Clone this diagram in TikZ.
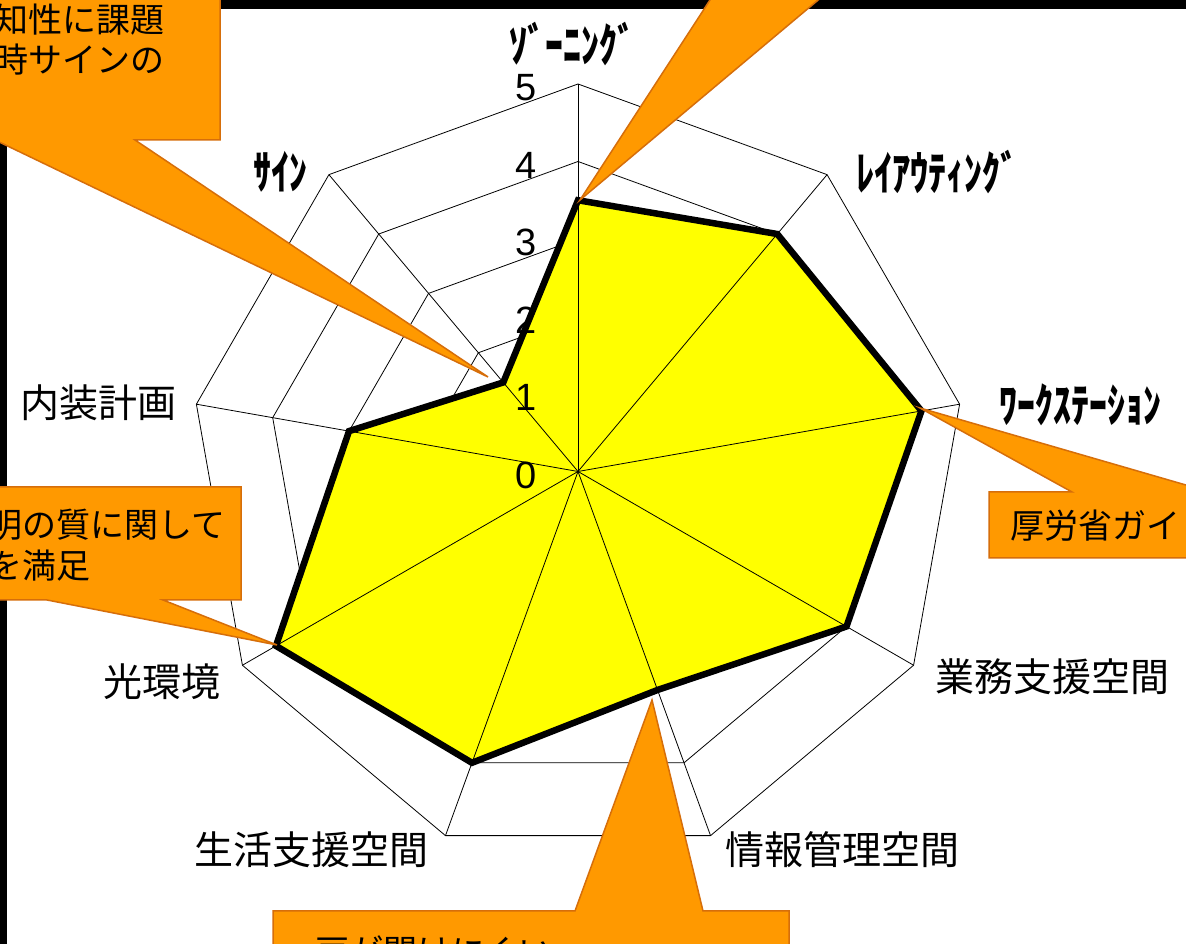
\documentclass[tikz,border=0pt]{standalone}
\usepackage{fontspec}
\usepackage{graphicx}
\setmainfont{Liberation Sans}
\newfontfamily\jp{Noto Sans CJK JP}
\usetikzlibrary{calc}
\definecolor{callfill}{RGB}{255,153,0}
\definecolor{callline}{RGB}{214,110,10}
\definecolor{scorefill}{RGB}{255,255,0}
\newcommand{\tallkana}[1]{\scalebox{1}[1.3]{#1}}
\tikzset{
  axislabel/.style={font=\jp\fontsize{39}{41}\selectfont, inner sep=0pt},
  kanalabel/.style={font=\jp\bfseries\fontsize{36}{38}\selectfont, inner sep=0pt},
  ticklabel/.style={font=\fontsize{38}{40}\selectfont, inner sep=0pt},
  gridline/.style={line width=0.8pt},
  callout/.style={fill=callfill, draw=callline, line width=1.5pt, line join=miter},
  callouttext/.style={font=\jp\fontsize{34}{36}\selectfont, inner sep=0pt, anchor=west},
}
\begin{document}
\begin{tikzpicture}[x=1pt, y=1pt]
    \clip (0,0) rectangle (1186,944);
    \fill[white] (0,0) rectangle (1186,944);

    % Chart frame (mostly hidden)
    \fill (0,935) rectangle (1186,944);
    \fill (0,0) rectangle (7,944);

    \begin{scope}[shift={(578,472.5)}]
        \coordinate (c) at (0,0);
        % Grid rings 1..5
        \foreach \r in {1,...,5}
            \draw[gridline] (90:\r*77.5) \foreach \a in {50,10,...,-230} { -- (\a:\r*77.5) } -- cycle;

        % Scores
        \coordinate (zon) at (90:3.5*77.5);
        \coordinate (lay) at (50:4*77.5);
        \coordinate (wks) at (10:4.5*77.5);
        \coordinate (gyo) at (-30:4*77.5);
        \coordinate (joh) at (-70:3*77.5);
        \coordinate (sei) at (-110:4*77.5);
        \coordinate (hik) at (-150:4.5*77.5);
        \coordinate (nai) at (170:3*77.5);
        \coordinate (sig) at (130:1.5*77.5);

        \fill[scorefill] (zon) -- (lay) -- (wks) -- (gyo) -- (joh) -- (sei) -- (hik) -- (nai) -- (sig) -- cycle;

        % Spokes
        \foreach \a in {90,50,...,-230}
            \draw[gridline] (c) -- (\a:5*77.5);

        \draw[line width=6.5pt] (zon) -- (lay) -- (wks) -- (gyo) -- (joh) -- (sei) -- (hik) -- (nai) -- (sig) -- cycle;
    \end{scope}

    % Scale labels
    \foreach \k in {0,...,5}
        \node[ticklabel] (t\k) at (526,{469+77.5*\k}) {\k};

    % Axis labels
    \node[kanalabel] (lzon) at (572,900) {\tallkana{ｿﾞｰﾆﾝｸﾞ}};
    \node[kanalabel] (llay) at (937,772) {\tallkana{ﾚｲｱｳﾃｨﾝｸﾞ}};
    \node[kanalabel] (lwks) at (1080,539) {\tallkana{ﾜｰｸｽﾃｰｼｮﾝ}};
    \node[axislabel] (lgyo) at (1052,267) {業務支援空間};
    \node[axislabel] (ljoh) at (842,94) {情報管理空間};
    \node[axislabel] (lsei) at (311,94) {生活支援空間};
    \node[axislabel] (lhik) at (162,262) {光環境};
    \node[axislabel] (lnai) at (98,541) {内装計画};
    \node[kanalabel] (lsig) at (280,772) {\tallkana{ｻｲﾝ}};

    % Callout tips
    \coordinate (tipsig) at (488,567);
    \coordinate (tipzon) at (580,744);
    \coordinate (tipwks) at (920,536);
    \coordinate (tiphik) at (277,299);
    \coordinate (tipjoh) at (652,244);

    % Callouts
    \draw[callout] (-60,804) -- (-5,804) -- (tipsig) -- (135,804) -- (220,804) -- (220,1000) -- (-60,1000) -- cycle;
    \node[callouttext] (csig1) at (-6,924) {知性に課題};
    \node[callouttext] (csig2) at (-6,884) {時サインの};

    \draw[callout] (tipzon) -- (723,964) -- (842,964) -- cycle;

    \draw[callout] (989,452) -- (1072,452) -- (tipwks) -- (1210,452) -- (1250,452) -- (1250,386) -- (989,386) -- cycle;
    \node[callouttext] (cwks) at (1010,418) {厚労省ガイ};

    \draw[callout] (-60,344) -- (47,344) -- (tiphik) -- (163,344) -- (241,344) -- (241,457) -- (-60,457) -- cycle;
    \node[callouttext] (chik1) at (-12,419) {明の質に関して};
    \node[callouttext] (chik2) at (-12,378) {を満足};

    \draw[callout] (273,-50) -- (273,33) -- (575,33) -- (tipjoh) -- (703,33) -- (789,33) -- (789,-50) -- cycle;
    \node[callouttext] (cjoh) at (315,-8) {戸が開けにくい};
\end{tikzpicture}
\end{document}
